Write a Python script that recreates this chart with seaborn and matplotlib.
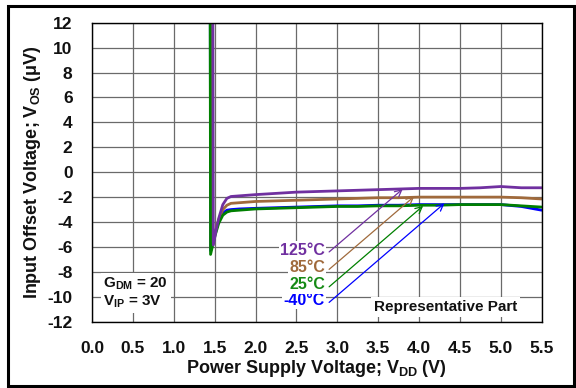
import matplotlib
matplotlib.use("Agg")
import matplotlib.pyplot as plt
from matplotlib.patches import Rectangle
import numpy as np
import pandas as pd
import seaborn as sns

# Input offset voltage vs. supply voltage, one trace per temperature
vdd_125 = [1.478, 1.484, 1.52, 1.55, 1.6, 1.65, 1.7, 1.8, 2.0, 2.25, 2.5, 2.75, 3.0, 3.25, 3.5, 3.75,
           4.0, 4.25, 4.5, 4.75, 5.0, 5.25, 5.5]
vos_125 = [14.0, -5.85, -4.6, -3.7, -2.6, -2.1, -1.95, -1.9, -1.8, -1.7, -1.6, -1.55, -1.5, -1.45, -1.4,
           -1.35, -1.3, -1.3, -1.3, -1.25, -1.15, -1.25, -1.25]

vdd_85 = [1.448, 1.455, 1.5, 1.55, 1.6, 1.65, 1.7, 1.8, 2.0, 2.25, 2.5, 2.75, 3.0, 3.25, 3.5, 3.75,
          4.0, 4.25, 4.5, 4.75, 5.0, 5.25, 5.5]
vos_85 = [14.0, -6.1, -4.9, -3.8, -3.0, -2.65, -2.5, -2.45, -2.35, -2.3, -2.25, -2.2, -2.15, -2.1, -2.05,
          -2.05, -2.0, -2.0, -2.0, -2.0, -2.0, -2.05, -2.15]

vdd_25 = [1.445, 1.45, 1.5, 1.55, 1.6, 1.65, 1.7, 1.8, 2.0, 2.25, 2.5, 2.75, 3.0, 3.25, 3.5, 3.75,
          4.0, 4.25, 4.5, 4.75, 5.0, 5.25, 5.5]
vos_25 = [14.0, -6.6, -5.2, -4.1, -3.45, -3.2, -3.1, -3.05, -2.95, -2.9, -2.85, -2.8, -2.75, -2.75, -2.7,
          -2.7, -2.65, -2.65, -2.6, -2.6, -2.6, -2.7, -2.8]

vdd_m40 = [1.446, 1.451, 1.5, 1.55, 1.6, 1.65, 1.7, 1.8, 2.0, 2.25, 2.5, 2.75, 3.0, 3.25, 3.5, 3.75,
           4.0, 4.25, 4.5, 4.75, 5.0, 5.25, 5.5]
vos_m40 = [14.0, -6.3, -5.0, -3.9, -3.3, -3.05, -3.0, -2.95, -2.9, -2.85, -2.8, -2.75, -2.7, -2.7, -2.65,
           -2.65, -2.6, -2.6, -2.6, -2.6, -2.6, -2.75, -3.05]

temps = ["-40°C", "25°C", "85°C", "125°C"]
colors = {"-40°C": "#0000FF", "25°C": "#008000", "85°C": "#A06A3C", "125°C": "#7030A0"}
text_colors = {"-40°C": "#0000FF", "25°C": "#158A15", "85°C": "#A06A3C", "125°C": "#7030A0"}
draw_order = ["-40°C", "85°C", "25°C", "125°C"]

# Annotation arrows: label anchor and arrow tip (data coordinates)
label_x = [2.9, 2.9, 2.9, 2.9]
label_y = [-10.45, -9.2, -7.8, -6.4]
tip_x = [4.31, 4.05, 3.94, 3.80]
tip_y = [-2.5, -2.7, -1.95, -1.35]

xticks = np.arange(0.0, 5.51, 0.5)
yticks = np.arange(-12, 13, 2)

frames = []
for t, xs, ys in [("-40°C", vdd_m40, vos_m40), ("25°C", vdd_25, vos_25),
                  ("85°C", vdd_85, vos_85), ("125°C", vdd_125, vos_125)]:
    frames.append(pd.DataFrame({"VDD": xs, "VOS": ys, "Temp": t}))
df = pd.concat(frames, ignore_index=True)

sns.set_theme(style="white")
plt.rcParams["font.family"] = ["Liberation Sans", "DejaVu Sans"]
plt.rcParams["font.weight"] = "bold"
plt.rcParams["mathtext.fontset"] = "custom"
plt.rcParams["mathtext.rm"] = "Liberation Sans:bold"
plt.rcParams["mathtext.bf"] = "Liberation Sans:bold"
plt.rcParams["mathtext.it"] = "Liberation Sans:bold"
plt.rcParams["mathtext.default"] = "bf"

fig = plt.figure(figsize=(5.76, 3.88), dpi=100)
ax = fig.add_axes([92 / 576, 1 - 321.7 / 388, (541.7 - 92) / 576, (321.7 - 22.7) / 388])

ax.set_xlim(0, 5.5)
ax.set_ylim(-12, 12)
ax.set_xticks(xticks)
ax.set_yticks(yticks)
ax.set_xticklabels([f"{v:.1f}" for v in xticks])
ax.set_yticklabels([f"{v:d}" for v in yticks])
ax.grid(True, color="#6a6a6a", linewidth=0.9)
ax.set_axisbelow(True)

for t in draw_order:
    sub = df[df["Temp"] == t]
    sns.lineplot(data=sub, x="VDD", y="VOS", color=colors[t], linewidth=2.0,
                 sort=False, estimator=None, ax=ax, legend=False)

for i, t in enumerate(temps):
    ax.annotate("", xy=(tip_x[i], tip_y[i]), xytext=(label_x[i], label_y[i]),
                arrowprops=dict(arrowstyle="->", color=colors[t], lw=0.9,
                                shrinkA=0, shrinkB=0))
    ax.text(label_x[i] - 0.05, label_y[i] + 0.15, t, color=text_colors[t], fontsize=11.5,
            fontweight="bold", ha="right", va="center",
            bbox=dict(facecolor="white", edgecolor="none", pad=1.0))

ax.text(4.32, -10.8, "Representative Part", fontsize=11, fontweight="bold",
        ha="center", va="center", color="#111111",
        bbox=dict(facecolor="white", edgecolor="none", pad=2.0))
ax.text(0.14, -9.7, "G$_{DM}$ = 20\nV$_{IP}$ = 3V", fontsize=11, fontweight="bold",
        ha="left", va="center", color="#111111", linespacing=1.1,
        bbox=dict(facecolor="white", edgecolor="none", pad=2.0))

ax.tick_params(axis="both", labelsize=12.5, length=0)
ax.tick_params(axis="x", pad=14)
ax.tick_params(axis="y", pad=14)
for lab in ax.get_xticklabels() + ax.get_yticklabels():
    lab.set_fontweight("bold")
    lab.set_color("#111111")

ax.set_xlabel("Power Supply Voltage; V$_{DD}$ (V)", fontsize=13, fontweight="bold",
              color="#111111", labelpad=1)
ax.set_ylabel("Input Offset Voltage; V$_{OS}$ (μV)", fontsize=13, fontweight="bold",
              color="#111111", labelpad=3)

for s in ax.spines.values():
    s.set_color("black")
    s.set_linewidth(1.0)

# Outer frame around the whole figure
fig.patches.append(Rectangle((8 / 576, 2.3 / 388), (574 - 8) / 576, (384 - 4) / 388,
                             transform=fig.transFigure, fill=False, edgecolor="black",
                             linewidth=2.2))

fig.savefig("out.png", dpi=100)
